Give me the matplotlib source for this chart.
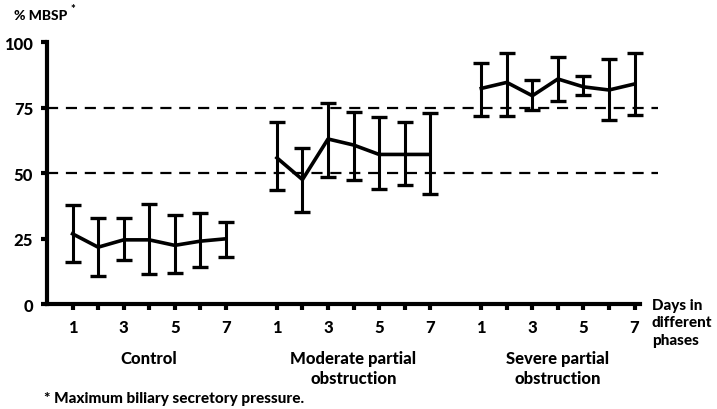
import matplotlib.pyplot as plt
import numpy as np

# days within each phase and their positions on the shared x axis
days = [1, 2, 3, 4, 5, 6, 7]
phase_offsets = [0, 8, 16]
phase_names = ["Control", "Moderate partial\nobstruction", "Severe partial\nobstruction"]

# % MBSP per day (mean, upper and lower whisker)
control_mean = [26.8, 21.7, 24.5, 24.5, 22.4, 24.0, 24.9]
control_hi = [37.7, 32.8, 32.8, 38.3, 34.1, 34.8, 31.5]
control_lo = [16.2, 10.8, 16.9, 11.5, 11.9, 14.3, 18.1]

moderate_mean = [55.8, 47.5, 63.0, 60.7, 57.1, 57.1, 57.1]
moderate_hi = [69.6, 59.4, 76.9, 73.4, 71.3, 69.6, 73.1]
moderate_lo = [43.4, 35.1, 48.5, 47.5, 43.8, 45.3, 41.9]

severe_mean = [82.3, 84.6, 79.5, 85.9, 82.9, 81.7, 84.0]
severe_hi = [91.9, 95.7, 85.5, 94.2, 86.9, 93.5, 95.8]
severe_lo = [71.9, 71.6, 74.2, 77.6, 79.8, 70.2, 72.1]

ref_levels = [50, 75]
y_ticks = [0, 25, 50, 75, 100]

plt.rcParams["font.family"] = ["Lato", "DejaVu Sans"]
plt.rcParams["font.weight"] = "black"

fig = plt.figure(figsize=(7.17, 4.10), dpi=100)
ax = fig.add_axes([0.0656, 0.256, 0.855, 0.639])

series = [(control_mean, control_hi, control_lo),
          (moderate_mean, moderate_hi, moderate_lo),
          (severe_mean, severe_hi, severe_lo)]

for off, (m, hi, lo) in zip(phase_offsets, series):
    x = np.array(days) + off
    m = np.array(m)
    err = [m - np.array(lo), np.array(hi) - m]
    ax.errorbar(x, m, yerr=err, color="black", lw=2.6, elinewidth=2.2,
                capsize=5.5, capthick=2.4, clip_on=False, zorder=3)

for lvl in ref_levels:
    ax.plot([0, 23.9], [lvl, lvl], color="black", lw=1.6,
            dashes=(5, 3.5), clip_on=False, zorder=2)

ax.set_xlim(0, 24)
ax.set_ylim(0, 100)

for s in ["top", "right"]:
    ax.spines[s].set_visible(False)
ax.spines["left"].set_linewidth(3)
ax.spines["bottom"].set_linewidth(3)
ax.spines["bottom"].set_bounds(0, 23.2)
ax.spines["left"].set_bounds(0, 100)

xt = [d + off for off in phase_offsets for d in days]
xl = [str(d) if d % 2 == 1 else "" for off in phase_offsets for d in days]
ax.set_xticks(xt)
ax.set_xticklabels(xl)
ax.set_yticks(y_ticks)
ax.tick_params(axis="x", length=4, width=3, pad=7, labelsize=12)
ax.tick_params(axis="y", length=4, width=3, pad=6, labelsize=12)

# phase names under the day numbers
for off, name in zip(phase_offsets, phase_names):
    ax.text(off + 4, -17.5, name, ha="center", va="top", fontsize=12,
            linespacing=1.3, clip_on=False)

ax.text(23.68, -7, "Days in\ndifferent\nphases", ha="left", va="center",
        fontsize=11, linespacing=1.35, clip_on=False)

fig.text(0.020, 0.962, "% MBSP", ha="left", va="center", fontsize=10)
fig.text(0.098, 0.978, "*", ha="left", va="center", fontsize=8)
fig.text(0.062, 0.028, "* Maximum biliary secretory pressure.", ha="left",
         va="center", fontsize=11)

fig.savefig("out.png", dpi=100)
